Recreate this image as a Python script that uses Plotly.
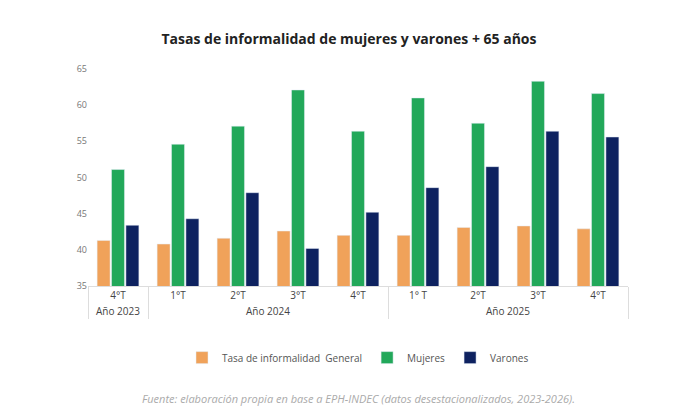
import plotly.graph_objects as go

years = ["Año 2023", "Año 2024", "Año 2024", "Año 2024", "Año 2024", "Año 2025", "Año 2025", "Año 2025", "Año 2025"]
quarters = ["4°T", "1°T", "2°T", "3°T", "4°T", "1° T", "2°T", "3°T", "4°T"]
general = [41.3, 40.8, 41.6, 42.6, 42.0, 42.0, 43.1, 43.3, 42.9]
mujeres = [51.1, 54.6, 57.1, 62.1, 56.4, 61.0, 57.5, 63.3, 61.6]
varones = [43.4, 44.3, 47.9, 40.2, 45.2, 48.6, 51.5, 56.4, 55.6]

# make every second-level label unique so order is kept
q_unique = [q + "\u200b" * i for i, q in enumerate(quarters)]
x = [years, q_unique]
fig = go.Figure()
fig.add_bar(x=x, y=general, name="Tasa de informalidad  General", marker_color="#F0A25A")
fig.add_bar(x=x, y=mujeres, name="Mujeres", marker_color="#22A85A")
fig.add_bar(x=x, y=varones, name="Varones", marker_color="#0E2260")

fig.update_layout(
    width=682, height=412,
    paper_bgcolor="white", plot_bgcolor="white",
    font=dict(family="Open Sans", size=10, color="#555"),
    title=dict(text="<b>Tasas de informalidad de mujeres y varones + 65 años</b>",
               x=0.5, xanchor="center", y=0.925, yanchor="middle",
               font=dict(size=14, color="#222")),
    margin=dict(l=80, r=62, t=61, b=134),
    bargap=0.28, bargroupgap=0.1,
    showlegend=True,
    legend=dict(orientation="h", x=0.5, xanchor="center", y=-0.33, yanchor="middle",
                font=dict(size=10, color="#555"), itemwidth=30),
    yaxis=dict(range=[35, 65], dtick=5, showgrid=False, zeroline=False,
               ticks="", tickfont=dict(size=9, color="#777")),
    xaxis=dict(showline=True, linecolor="#ddd", showdividers=True, dividercolor="#ddd",
               categoryorder="trace", tickfont=dict(size=10, color="#444")),
)
fig.add_annotation(text="<i>Fuente: elaboración propia en base a EPH-INDEC (datos desestacionalizados, 2023-2026).</i>",
                   xref="paper", yref="paper", x=0.5, y=-0.52, xanchor="center", yanchor="middle",
                   showarrow=False, font=dict(size=11, color="#aaa"))
fig.write_html("out.html")
